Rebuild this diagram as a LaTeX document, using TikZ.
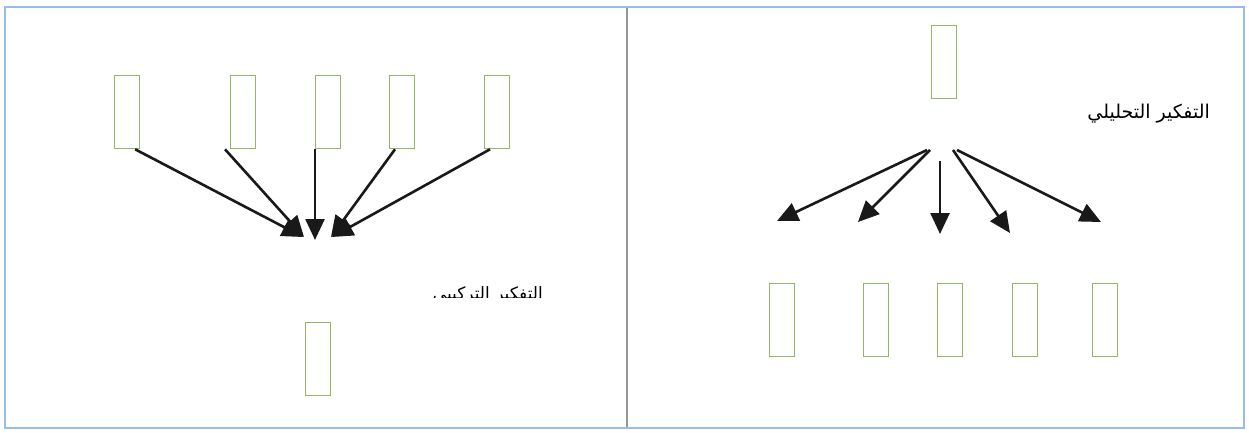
\documentclass[tikz,border=0pt]{standalone}
\usepackage{fontspec}
\usetikzlibrary{arrows.meta}
\TeXXeTstate=1
\newfontfamily\arabicfont[Script=Arabic]{DejaVu Sans}
\definecolor{boxgreen}{RGB}{150,182,100}
\definecolor{framec}{RGB}{150,190,230}
\definecolor{divc}{RGB}{150,150,150}
\tikzset{
  rbox/.style={draw=boxgreen, line width=1.3pt, minimum width=25pt, minimum height=73pt, inner sep=0pt, anchor=north west},
  farrow/.style={line width=2.6pt, draw=black!90, -{Triangle[length=21pt,width=19pt]}},
}
\begin{document}
\begin{tikzpicture}[x=1pt,y=-1pt]
\useasboundingbox (0,0) rectangle (1249,433);
\fill[white] (0,0) rectangle (1249,433);
% frame
\draw[framec, line width=2pt] (5,7) rectangle (1244,428);
\draw[divc, line width=1.6pt] (627,8) -- (627,427);

% ---- left panel: synthesis ----
\node[rbox] (l1) at (114,75) {};
\node[rbox] (l2) at (230,75) {};
\node[rbox] (l3) at (315,75) {};
\node[rbox] (l4) at (389,75) {};
\node[rbox] (l5) at (484,75) {};
\node[rbox] (lb) at (305,322) {};
\coordinate (t1) at (303,237);
\coordinate (t2) at (304,237);
\coordinate (t3) at (315,240);
\coordinate (t4) at (331,237);
\coordinate (t5) at (332,237);
\draw[farrow] ([xshift=8pt]l1.south) -- (t1);
\draw[farrow] ([xshift=-5pt]l2.south west) -- (t2);
\draw[farrow] (l3.south west) -- (t3);
\draw[farrow] ([xshift=6pt]l4.south west) -- (t4);
\draw[farrow] ([xshift=6pt]l5.south west) -- (t5);
\begin{scope}
\clip (420,270) rectangle (560,297);
\node[anchor=base east, inner sep=0pt, font=\arabicfont\fontsize{17}{20}\selectfont] (ltext) at (543,299) {\beginR التفكير التركيبي\endR};
\end{scope}

% ---- right panel: analysis ----
\node[rbox] (rt) at (931,25) {};
\node[rbox] (r1) at (769,283) {};
\node[rbox] (r2) at (863,283) {};
\node[rbox] (r3) at (937,283) {};
\node[rbox] (r4) at (1012,283) {};
\node[rbox] (r5) at (1092,283) {};
\coordinate (s1) at (927,150);
\coordinate (s2) at (930,150);
\coordinate (s3) at (940,161);
\coordinate (s4) at (953,150);
\coordinate (s5) at (957,150);
\coordinate (e1) at (777,221);
\coordinate (e2) at (858,222);
\coordinate (e3) at (940,234);
\coordinate (e4) at (1010,233);
\coordinate (e5) at (1101,222);
\draw[farrow] (s1) -- (e1);
\draw[farrow] (s2) -- (e2);
\draw[farrow] (s3) -- (e3);
\draw[farrow] (s4) -- (e4);
\draw[farrow] (s5) -- (e5);
\node[anchor=base east, inner sep=0pt, font=\arabicfont\fontsize{19}{22}\selectfont] (rtext) at (1210,118) {\beginR التفكير التحليلي\endR};
\end{tikzpicture}
\end{document}
